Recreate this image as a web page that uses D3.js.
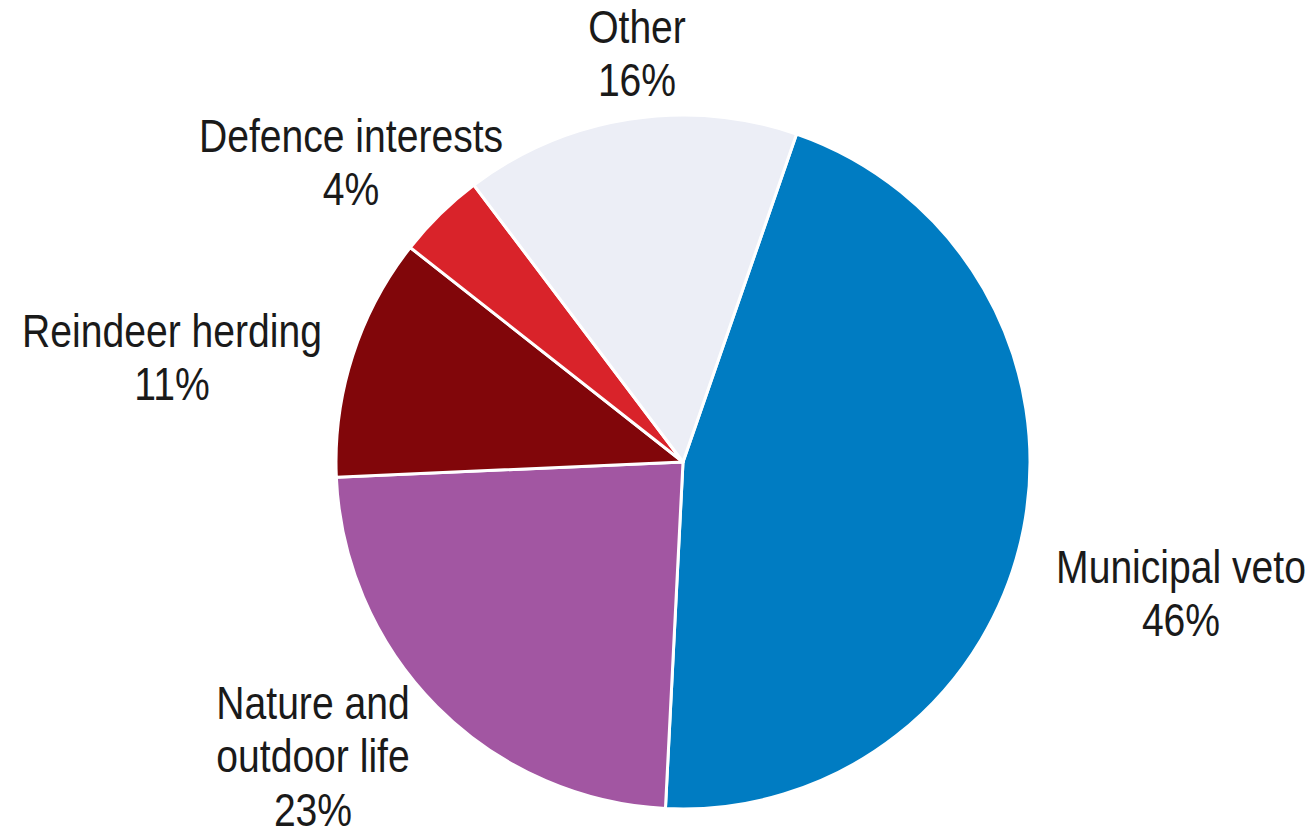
<!DOCTYPE html>
<html><head><meta charset="utf-8">
<script src="https://cdn.jsdelivr.net/npm/d3@7"></script>
<style>
body{margin:0;background:#fff;}
text{font-family:"Liberation Sans Narrow","Arial Narrow","Liberation Sans",Arial,sans-serif;fill:#1a1a1a;}
</style></head>
<body><svg id="c" width="1313" height="835"></svg>
<script>
const categories = ["Municipal veto","Nature and outdoor life","Reindeer herding","Defence interests","Other"];
const values = [45.5, 23.5, 11.3, 4.1, 15.6];
const percentLabels = ["46%","23%","11%","4%","16%"];
const labelLines = [["Municipal veto"],["Nature and","outdoor life"],["Reindeer herding"],["Defence interests"],["Other"]];
const colors = ["#007cc2","#a256a2","#81060a","#d9232a","#eceef6"];

// layout (not data)
const cx = 683, cy = 462, R = 347;
const labelAnchors = [[1181,583],[313,719],[172,347],[351,152],[637,43]];
const lineH = 53.5;
const squeeze = 0.85;

const svg = d3.select("#c");
const g = svg.append("g").attr("transform",`translate(${cx},${cy})`);
const start = 19.1*Math.PI/180;
const pie = d3.pie().sort(null).value(d=>d).startAngle(start).endAngle(start+2*Math.PI);
const arc = d3.arc().innerRadius(0).outerRadius(R);
g.selectAll("path").data(pie(values)).join("path")
  .attr("d",arc).attr("fill",(d,i)=>colors[i])
  .attr("stroke","#fff").attr("stroke-width",3).attr("stroke-linejoin","round");

const lab = svg.append("g");
categories.forEach((c,i)=>{
  const lines = labelLines[i].concat([percentLabels[i]]);
  const [x,y] = labelAnchors[i];
  const t = lab.append("text").attr("text-anchor","middle").attr("font-size",46)
    .attr("transform",`translate(${x},${y}) scale(${squeeze},1)`);
  lines.forEach((l,j)=>{
    t.append("tspan").attr("x",0).attr("y",j*lineH).text(l);
  });
});
</script></body></html>
